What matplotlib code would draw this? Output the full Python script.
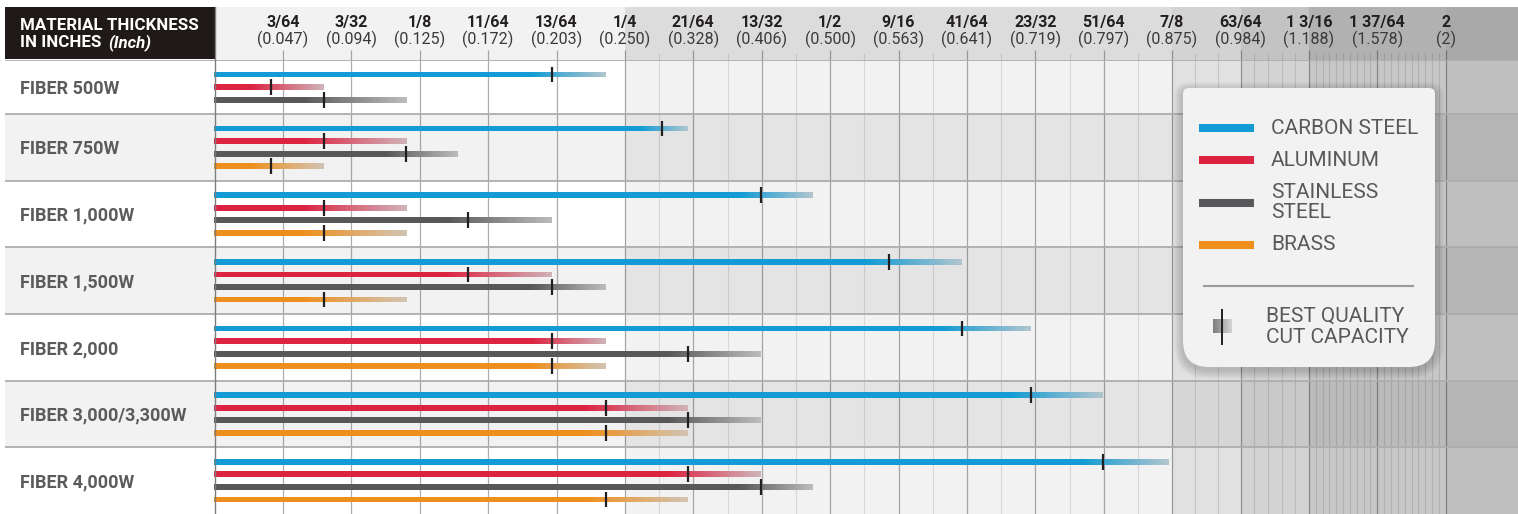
import numpy as np
import matplotlib
matplotlib.use("Agg")
import matplotlib.pyplot as plt
from matplotlib.path import Path
from matplotlib.patches import PathPatch, Rectangle
import matplotlib.colors as mcolors

plt.rcParams['font.family'] = ['Roboto', 'DejaVu Sans']

# ---------------- data ----------------
TICK_FRAC = ["3/64", "3/32", "1/8", "11/64", "13/64", "1/4", "21/64", "13/32", "1/2",
             "9/16", "41/64", "23/32", "51/64", "7/8", "63/64", "1 3/16", "1 37/64", "2"]
TICK_DEC = ["(0.047)", "(0.094)", "(0.125)", "(0.172)", "(0.203)", "(0.250)", "(0.328)",
            "(0.406)", "(0.500)", "(0.563)", "(0.641)", "(0.719)", "(0.797)", "(0.875)",
            "(0.984)", "(1.188)", "(1.578)", "(2)"]
TICK_IN = [0.047, 0.094, 0.125, 0.172, 0.203, 0.250, 0.328, 0.406, 0.500, 0.563,
           0.641, 0.719, 0.797, 0.875, 0.984, 1.188, 1.578, 2.0]

MACHINES = ["FIBER 500W", "FIBER 750W", "FIBER 1,000W", "FIBER 1,500W",
            "FIBER 2,000", "FIBER 3,000/3,300W", "FIBER 4,000W"]
LEGEND_LABELS = ["CARBON STEEL", "ALUMINUM", "STAINLESS\nSTEEL", "BRASS"]
COLORS = ["#129bd4", "#dc2342", "#58585a", "#ee8f1d"]

# best quality cut capacity / maximum cut capacity (inches); None = not offered
CARBON_BEST = [0.201, 0.292, 0.405, 0.554, 0.635, 0.714, 0.796]
CARBON_MAX = [0.237, 0.322, 0.476, 0.635, 0.714, 0.796, 0.871]
ALU_BEST = [0.039, 0.075, 0.075, 0.158, 0.201, 0.237, 0.322]
ALU_MAX = [0.075, 0.119, 0.119, 0.201, 0.237, 0.322, 0.405]
SS_BEST = [0.075, 0.119, 0.158, 0.201, 0.322, 0.322, 0.405]
SS_MAX = [0.119, 0.151, 0.201, 0.237, 0.405, 0.405, 0.476]
BRASS_BEST = [None, 0.039, 0.075, 0.075, 0.201, 0.237, 0.237]
BRASS_MAX = [None, 0.075, 0.119, 0.119, 0.237, 0.322, 0.322]

BEST = [CARBON_BEST, ALU_BEST, SS_BEST, BRASS_BEST]
MAXC = [CARBON_MAX, ALU_MAX, SS_MAX, BRASS_MAX]

# ---------------- scale (equal spacing between ticks) ----------------
EDGE_IN = np.array([0.0] + TICK_IN + [2.5])
EDGE_IX = np.array(list(range(0, 19)) + [19.5], dtype=float)


def fwd(x):
    return np.interp(x, EDGE_IN, EDGE_IX)


def inv(i):
    return np.interp(i, EDGE_IX, EDGE_IN)


W, H = 1518, 514
AX_LEFT = 214.5
HEAD_TOP, HEAD_BOT = 7, 60
GRID_PX = 68.4

fig = plt.figure(figsize=(W / 100, H / 100), dpi=100)
fig.patch.set_facecolor("white")

ax = fig.add_axes([AX_LEFT / W, 0, 1 - AX_LEFT / W, (H - HEAD_BOT) / H])
ax.set_xscale("function", functions=(fwd, inv))
XMAX = float(inv((W - AX_LEFT) / GRID_PX))
ax.set_xlim(0, XMAX)
ax.set_axis_off()

# rows layout
row_tops, row_h, row_present = [], [], []
yy = 0.0
for r in range(len(MACHINES)):
    present = [k for k in range(4) if BEST[k][r] is not None]
    h = len(present) + 1.3
    row_tops.append(yy)
    row_h.append(h)
    row_present.append(present)
    yy += h
TOTAL = yy
ax.set_ylim(TOTAL, 0)

# shading regions
REG_EDGES = [0.0, 0.25, 0.875, 0.984, 1.188, 2.0, XMAX]
REG_WHITE = ["#ffffff", "#f2f2f2", "#e1e1e1", "#d3d3d3", "#c7c7c7", "#bfbfbf"]
REG_GREY = ["#f2f2f2", "#e4e4e4", "#d6d6d6", "#c9c9c9", "#bbbbbb", "#b5b5b5"]
HEAD_COL = ["#f2f2f2", "#dcdcdc", "#d3d3d3", "#c3c3c3", "#b1b1b1", "#a9a9a9"]

for r in range(len(MACHINES)):
    cols = REG_WHITE if r % 2 == 0 else REG_GREY
    for j in range(len(REG_EDGES) - 1):
        ax.add_patch(Rectangle((REG_EDGES[j], row_tops[r]), REG_EDGES[j + 1] - REG_EDGES[j],
                               row_h[r], facecolor=cols[j], edgecolor="none", zorder=0))

# gridlines
MINOR_DIV = [1, 1, 1, 1, 1, 1, 2, 2, 2, 2, 2, 2, 2, 2, 3, 5, 10, 10]
minor_pos = []
for i, n in enumerate(MINOR_DIV):
    for k in range(1, n):
        minor_pos.append(float(inv(i + k / n)))
for xm in minor_pos:
    ax.axvline(xm, color="black", alpha=0.11, lw=0.8, zorder=1)
for xt in TICK_IN:
    ax.axvline(xt, color="black", alpha=0.32, lw=0.9, zorder=1)

# row separators
for r in range(len(MACHINES)):
    ax.axhline(row_tops[r], color="#adadad", lw=1.3, zorder=2)

# bars
FADE = np.array(mcolors.to_rgb("#cdcdcd"))
N = 40
for r in range(len(MACHINES)):
    for s, k in enumerate(row_present[r]):
        y = row_tops[r] + 1.15 + s
        best, mx = BEST[k][r], MAXC[k][r]
        c = np.array(mcolors.to_rgb(COLORS[k]))
        g0 = max(fwd(best) - 0.3, 0.0)
        g1 = fwd(mx)
        xs0 = float(inv(g0))
        ax.barh(y, xs0, left=0, height=0.46, color=COLORS[k], edgecolor="none", zorder=3)
        edges = inv(np.linspace(g0, g1, N + 1))
        t = (np.arange(N) + 0.5) / N
        m = 0.85 * t
        segcols = [(1 - mm) * c + mm * FADE for mm in m]
        ax.barh(np.full(N, y), np.diff(edges) * 1.02, left=edges[:-1], height=0.46,
                color=segcols, edgecolor="none", zorder=3)
        ax.vlines(best, y - 0.63, y + 0.63, color="#231f20", lw=1.6, zorder=4)

# ---------------- header ----------------
ax_h = fig.add_axes([AX_LEFT / W, 1 - HEAD_BOT / H, 1 - AX_LEFT / W, (HEAD_BOT - HEAD_TOP) / H],
                    sharex=ax)
ax_h.set_axis_off()
ax_h.set_ylim(HEAD_BOT - HEAD_TOP, 0)
ax_h.set_xlim(0, XMAX)
for j in range(len(REG_EDGES) - 1):
    ax_h.add_patch(Rectangle((REG_EDGES[j], 0), REG_EDGES[j + 1] - REG_EDGES[j],
                             HEAD_BOT - HEAD_TOP, facecolor=HEAD_COL[j], edgecolor="none",
                             zorder=0))
for xm in minor_pos:
    ax_h.vlines(xm, 46, 53, color="black", alpha=0.11, lw=0.8, zorder=1)
for xt, fr, de in zip(TICK_IN, TICK_FRAC, TICK_DEC):
    ax_h.vlines(xt, 43, 53, color="black", alpha=0.32, lw=0.9, zorder=1)
    ax_h.text(xt, 15.5, fr, ha="center", va="center", fontsize=11.5, fontweight="bold",
              color="#231f20", zorder=2)
    ax_h.text(xt, 32, de, ha="center", va="center", fontsize=11.5, color="#3a3a3a",
              zorder=2)

# ---------------- row labels ----------------
ax_l = fig.add_axes([5 / W, 0, (AX_LEFT - 5) / W, (H - HEAD_BOT) / H], sharey=ax)
ax_l.set_axis_off()
ax_l.set_xlim(0, AX_LEFT - 5)
for r, name in enumerate(MACHINES):
    ax_l.add_patch(Rectangle((0, row_tops[r]), AX_LEFT - 5, row_h[r],
                             facecolor="#ffffff" if r % 2 == 0 else "#f2f2f2",
                             edgecolor="none", zorder=0))
    ax_l.axhline(row_tops[r], color="#adadad", lw=1.3, zorder=2)
    ax_l.text(15, row_tops[r] + row_h[r] / 2 + 0.13, name, ha="left", va="center",
              fontsize=13, fontweight="bold", color="#5a5b5d", zorder=3)

# ---------------- overlay (title cell & legend) ----------------
ax_o = fig.add_axes([0, 0, 1, 1], zorder=10)
ax_o.set_axis_off()
ax_o.set_xlim(0, W)
ax_o.set_ylim(H, 0)

ax_o.add_patch(Rectangle((5, HEAD_TOP), AX_LEFT - 5, HEAD_BOT - HEAD_TOP - 0.8,
                         facecolor="#1f1a17", edgecolor="none"))
ax_o.plot([AX_LEFT, AX_LEFT], [HEAD_TOP, H], color="#7d7d7d", lw=1.0)
ax_o.text(20, 25.5, "MATERIAL THICKNESS", ha="left", va="center", fontsize=12.2,
          fontweight="bold", color="white")
t1 = ax_o.text(20, 42.5, "IN INCHES", ha="left", va="center", fontsize=12.2,
               fontweight="bold", color="white")
ax_o.annotate("(Inch)", xy=(1, 0.5), xycoords=t1, xytext=(5, 0), textcoords="offset points",
              ha="left", va="center", fontsize=12.2, fontweight="bold", fontstyle="italic",
              color="white")


def rrect_path(x0, y0, x1, y1, rt, rb):
    verts = [(x0 + rt, y0), (x1 - rt, y0), (x1, y0), (x1, y0 + rt), (x1, y1 - rb),
             (x1, y1), (x1 - rb, y1), (x0 + rb, y1), (x0, y1), (x0, y1 - rb),
             (x0, y0 + rt), (x0, y0), (x0 + rt, y0), (x0 + rt, y0)]
    codes = [Path.MOVETO, Path.LINETO, Path.CURVE3, Path.CURVE3, Path.LINETO,
             Path.CURVE3, Path.CURVE3, Path.LINETO, Path.CURVE3, Path.CURVE3,
             Path.LINETO, Path.CURVE3, Path.CURVE3, Path.CLOSEPOLY]
    return Path(verts, codes)


LX0, LY0, LX1, LY1 = 1183, 88, 1435, 367
for sdx in range(1, 10):
    ax_o.add_patch(PathPatch(rrect_path(LX0 - sdx, LY0 - sdx + 3, LX1 + sdx, LY1 + sdx + 3,
                                        6 + sdx, 26 + sdx),
                             facecolor="black", edgecolor="none", alpha=0.018))
ax_o.add_patch(PathPatch(rrect_path(LX0, LY0, LX1, LY1, 6, 26), facecolor="#f2f2f2",
                         edgecolor="none"))

SW_Y = [128, 160, 203, 245]
TX_Y = [128, 160, 202.5, 245]
for k in range(4):
    ax_o.plot([1199, 1254], [SW_Y[k], SW_Y[k]], color=COLORS[k], lw=5.8,
              solid_capstyle="butt")
    ax_o.text(1271, TX_Y[k], LEGEND_LABELS[k], ha="left", va="center", fontsize=15,
              color="#58595b", linespacing=1.1)
ax_o.plot([1204, 1413], [286, 286], color="#9a9a9a", lw=1.5)
gcols = np.linspace(0.50, 0.82, 10)
for i, g in enumerate(gcols):
    ax_o.add_patch(Rectangle((1213 + i * 1.9, 319), 2.0, 14, facecolor=(g, g, g),
                             edgecolor="none"))
ax_o.plot([1222, 1222], [310, 344], color="#231f20", lw=1.4)
ax_o.text(1266, 327, "BEST QUALITY\nCUT CAPACITY", ha="left", va="center", fontsize=15,
          color="#58595b", linespacing=1.1)

fig.savefig("out.png", dpi=100, facecolor="white")
